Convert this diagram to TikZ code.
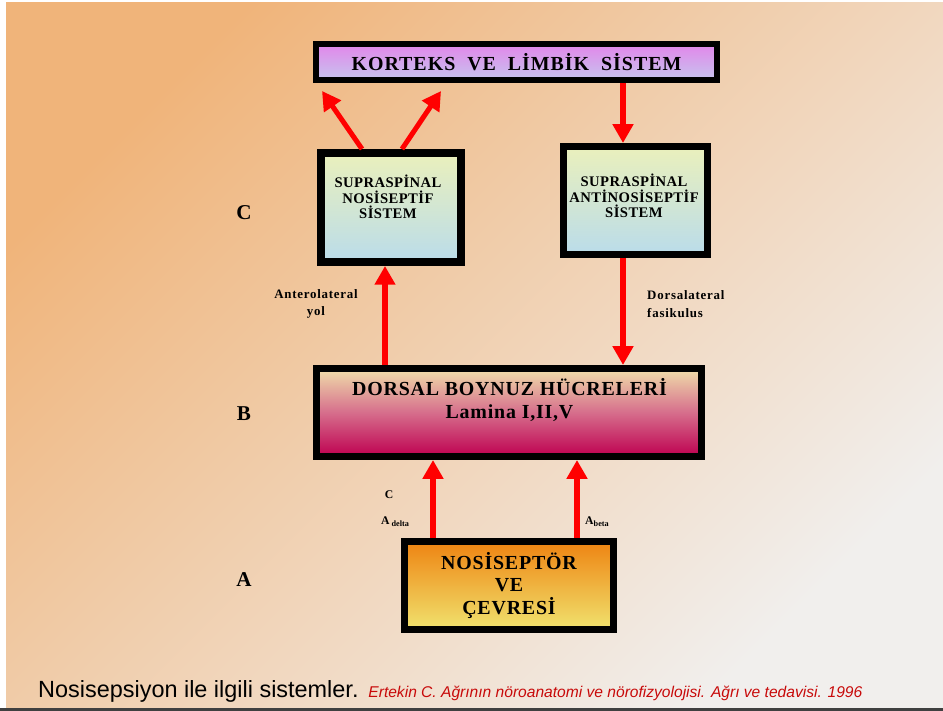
\documentclass[tikz,border=0pt]{standalone}
\usepackage{fontspec}
\setmainfont{Liberation Serif}
\newfontfamily\capfont{Liberation Sans}
\usepackage{xcolor}
\usepackage{tikz}
\usetikzlibrary{arrows.meta,positioning}
\definecolor{bgorange}{RGB}{240,180,122}
\definecolor{bglight}{RGB}{241,239,237}
\definecolor{arrowred}{RGB}{255,0,0}
\definecolor{violettop}{RGB}{226,134,234}
\definecolor{violetbot}{RGB}{198,196,238}
\definecolor{paleyellow}{RGB}{234,240,188}
\definecolor{paleblue}{RGB}{186,220,234}
\definecolor{dorsaltop}{RGB}{240,222,170}
\definecolor{dorsalmid}{RGB}{214,110,140}
\definecolor{dorsalbot}{RGB}{190,0,80}
\definecolor{nositop}{RGB}{238,132,18}
\definecolor{nosibot}{RGB}{240,226,110}
\definecolor{sourcered}{RGB}{200,10,10}
\newcommand{\pix}{0.03cm}
\tikzset{
  frame/.style   = {draw=black, line width=6pt, inner sep=0pt, align=center},
  boxtext/.style = {align=center, inner sep=0pt},
  flow/.style    = {-{Triangle[length=16pt,width=17pt]}, draw=arrowred, line width=4.3pt},
}

\begin{document}
\begin{tikzpicture}[x=0.03cm, y=-0.03cm,
  midtext/.style={boxtext, font=\fontsize{12.5}{13.2}\selectfont\bfseries\addfontfeatures{LetterSpace=3}},
  sidelabel/.style={font=\fontsize{18}{20}\selectfont\bfseries, inner sep=0pt},
  pathlabel/.style={font=\fontsize{11}{15}\selectfont\bfseries\addfontfeatures{LetterSpace=6}, inner sep=0pt},
  fibre/.style={font=\fontsize{10}{12}\selectfont\bfseries, inner sep=0pt},
]
\useasboundingbox (0,0) rectangle (943,711);
\shade[top color=bgorange, bottom color=bglight, shading angle=45] (6,3) rectangle (943,708);
\fill[black!75] (0,708) rectangle (943,711);

% boxes
\node[frame, line width=5.1pt, minimum width=401*\pix, minimum height=36*\pix,
      top color=violettop, bottom color=violetbot,
      font=\fontsize{17}{19}\selectfont\bfseries\addfontfeatures{LetterSpace=5}]
  (korteks) at (516.5,62) {KORTEKS\ \ VE\ \ LİMBİK\ \ SİSTEM};
\node[frame, line width=6.8pt, minimum width=140*\pix, minimum height=109*\pix,
      top color=paleyellow, bottom color=paleblue] (supnos) at (391,207.5) {};
\node[midtext] (supnostext) at (388,197) {SUPRASPİNAL\\NOSİSEPTİF\\SİSTEM};
\node[frame, minimum width=144*\pix, minimum height=108*\pix,
      top color=paleyellow, bottom color=paleblue] (supanti) at (635.5,200.5) {};
\node[midtext] (supantitext) at (634,196) {SUPRASPİNAL\\ANTİNOSİSEPTİF\\SİSTEM};
\node[frame, minimum width=385*\pix, minimum height=88*\pix,
      top color=dorsaltop, bottom color=dorsalbot, middle color=dorsalmid] (dorsal) at (509,412.5) {};
\node[boxtext, font=\fontsize{17}{19.6}\selectfont\bfseries\addfontfeatures{LetterSpace=4}]
  (dorsaltext) at (509.5,400) {DORSAL BOYNUZ HÜCRELERİ\\Lamina I,II,V};
\node[frame, minimum width=209*\pix, minimum height=88*\pix,
      top color=nositop, bottom color=nosibot,
      font=\fontsize{17}{19.6}\selectfont\bfseries\addfontfeatures{LetterSpace=4}]
  (nosiseptor) at (509,585.5) {NOSİSEPTÖR\\VE\\ÇEVRESİ};

% levels
\node[sidelabel] (lvlC) at (244,213) {C};
\node[sidelabel] (lvlB) at (244,414) {B};
\node[sidelabel] (lvlA) at (244,580) {A};

% pathway labels
\node[pathlabel, align=center] (antero) at (316,304) {Anterolateral\\yol};
\node[pathlabel, align=left, anchor=west] (dorsolat) at (647,304) {Dorsalateral\\fasikulus};
\node[fibre] (cfib) at (389,495) {C};
\node[fibre, anchor=base west] (adelta) at (381,525) {A\,\textsubscript{delta}};
\node[fibre, anchor=base west] (abeta) at (585,525) {A\textsubscript{beta}};

% arrows
\draw[flow] ([shift={(-29,0)}]supnos.north) -- ([shift={(9,8)}]korteks.south west);
\draw[flow] ([shift={(11,0)}]supnos.north) -- ([shift={(128,8)}]korteks.south west);
\draw[flow] (korteks.south -| 623,0) -- (supanti.north -| 623,0);
\draw[flow] (dorsal.north -| 385,0) -- (supnos.south -| 385,0);
\draw[flow] (supanti.south -| 623,0) -- (dorsal.north -| 623,0);
\draw[flow] (nosiseptor.north -| 433,0) -- (dorsal.south -| 433,0);
\draw[flow] (nosiseptor.north -| 577,0) -- (dorsal.south -| 577,0);

% caption
\node[anchor=base west, inner sep=0pt, font=\capfont\fontsize{20}{23}\selectfont]
  (caption) at (38,697) {Nosisepsiyon ile ilgili sistemler.};
\node[inner sep=0pt, text=sourcered, font=\capfont\itshape\fontsize{13.3}{15}\selectfont,
      right=8pt of caption.base east, anchor=base west]
  (source) {Ertekin C. Ağrının nöroanatomi ve nörofizyolojisi. Ağrı ve tedavisi. 1996};
\end{tikzpicture}
\end{document}
